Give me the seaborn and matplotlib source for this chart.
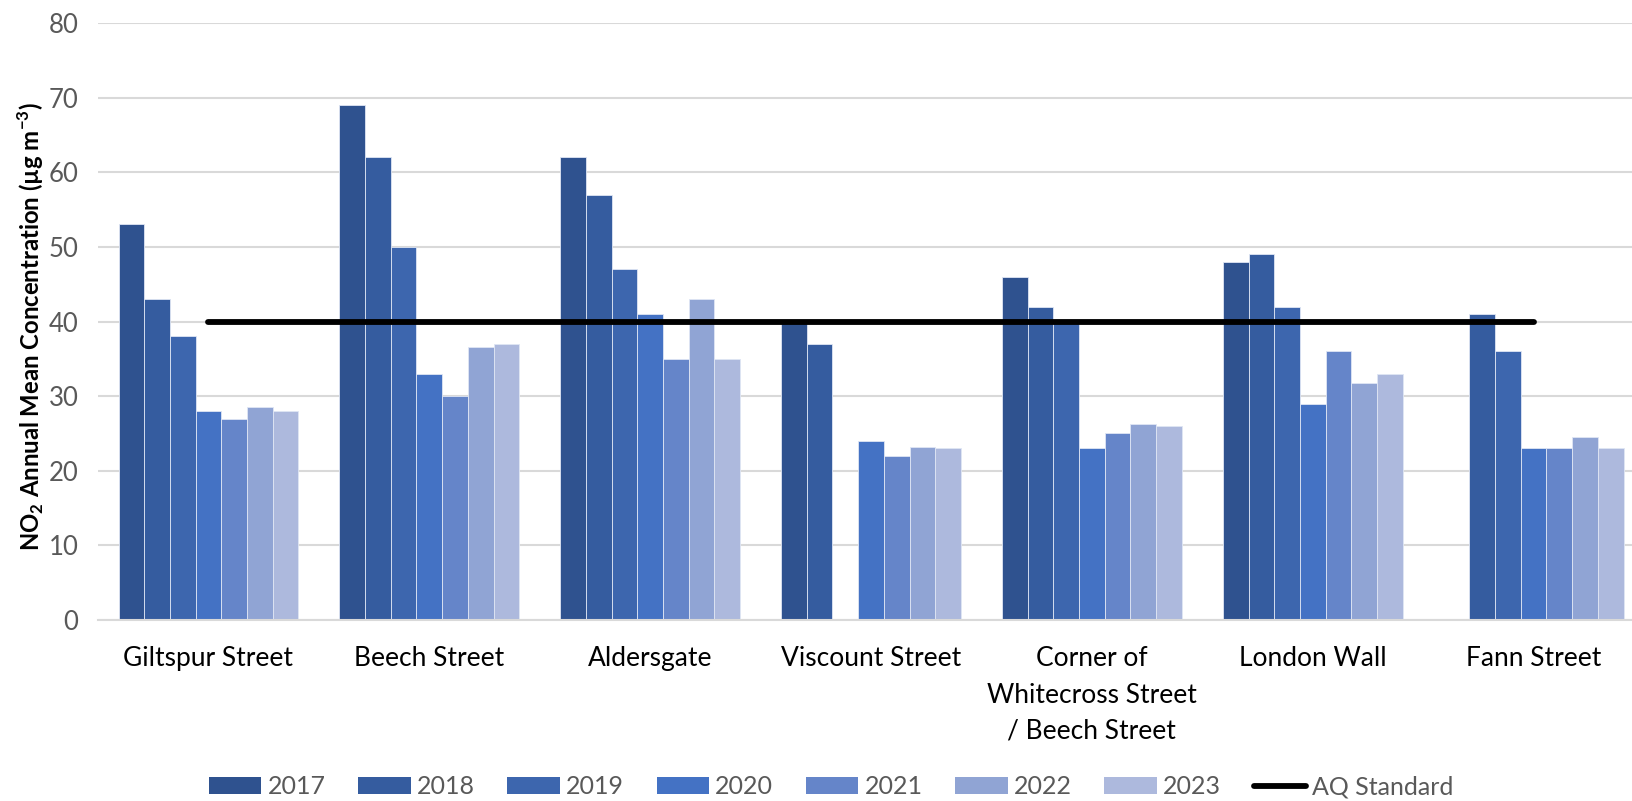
import numpy as np
import pandas as pd
import matplotlib
matplotlib.use("Agg")
import matplotlib.pyplot as plt
from matplotlib.lines import Line2D
from matplotlib.patches import Patch
import seaborn as sns

sites = ["Giltspur Street", "Beech Street", "Aldersgate", "Viscount Street",
         "Corner of\nWhitecross Street\n/ Beech Street", "London Wall", "Fann Street"]
years = ["2017", "2018", "2019", "2020", "2021", "2022", "2023"]
v2017 = [53, 69, 62, 40, 46, 48, np.nan]
v2018 = [43, 62, 57, 37, 42, 49, 41]
v2019 = [38, 50, 47, np.nan, 40, 42, 36]
v2020 = [28, 33, 41, 24, 23, 29, 23]
v2021 = [27, 30, 35, 22, 25, 36, 23]
v2022 = [28.5, 36.6, 43, 23.2, 26.2, 31.7, 24.5]
v2023 = [28, 37, 35, 23, 26, 33, 23]
aq_standard = [40, 40, 40, 40, 40, 40, 40]

colors = ["#2F528F", "#355C9F", "#3D66AE", "#4472C4", "#6585C9", "#90A4D4", "#ADB9DD"]

series = [v2017, v2018, v2019, v2020, v2021, v2022, v2023]
rows = []
for y, vals in zip(years, series):
    for s, v in zip(sites, vals):
        rows.append({"site": s, "year": y, "value": v})
df = pd.DataFrame(rows)

sns.set_theme(style="white")
plt.rcParams["font.family"] = ["Lato", "DejaVu Sans"]
plt.rcParams["mathtext.fontset"] = "custom"
plt.rcParams["mathtext.rm"] = "Lato"
plt.rcParams["mathtext.bf"] = "Lato:bold"

fig = plt.figure(figsize=(16.33, 8.01), dpi=100)
ax = fig.add_axes([98 / 1633, 1 - 620 / 801, 1 - 98 / 1633, (620 - 23) / 801])

sns.barplot(data=df, x="site", y="value", hue="year", order=sites, hue_order=years,
            palette=colors, width=0.814, dodge=True, ax=ax, legend=False,
            edgecolor="#dfe6f4", linewidth=0.6, saturation=1, errorbar=None, zorder=2)

ax.plot(np.arange(len(sites)), aq_standard, color="black", lw=4.2,
        solid_capstyle="round", zorder=5)

ax.set_ylim(0, 80)
ax.set_xlim(-0.5, 6.45)
ax.set_yticks(np.arange(0, 81, 10))
ax.yaxis.grid(True, color="#d9d9d9", lw=1.5, zorder=0)
ax.set_axisbelow(True)
for sp in ["top", "right", "left"]:
    ax.spines[sp].set_visible(False)
ax.spines["bottom"].set_color("#d9d9d9")
ax.spines["bottom"].set_linewidth(1.5)

ax.tick_params(axis="y", length=0, pad=14, labelsize=18.5, labelcolor="#595959")
ax.tick_params(axis="x", length=0, pad=19, labelsize=19, labelcolor="black")
ax.set_xlabel("")
ax.set_ylabel(r"NO$_\mathbf{2}$ Annual Mean Concentration (µg m$^\mathbf{-3}$)",
              fontsize=17.2, fontweight="bold", color="black")
ax.yaxis.set_label_coords((46 - 98) / (1633 - 98), 0.492)

for t in ax.get_xticklabels():
    t.set_linespacing(1.56)

handles = [Patch(facecolor=c, edgecolor="none") for c in colors]
handles.append(Line2D([0], [0], color="black", lw=4.2, solid_capstyle="round"))
labels = years + ["AQ Standard"]
fig.legend(handles, labels, loc="center", bbox_to_anchor=(0.509, 1 - 787 / 801), ncol=8,
           frameon=False, fontsize=18, labelcolor="#595959", handlelength=2.1,
           handleheight=0.68, handletextpad=0.25, columnspacing=1.3)

fig.savefig("out.png", dpi=100)
